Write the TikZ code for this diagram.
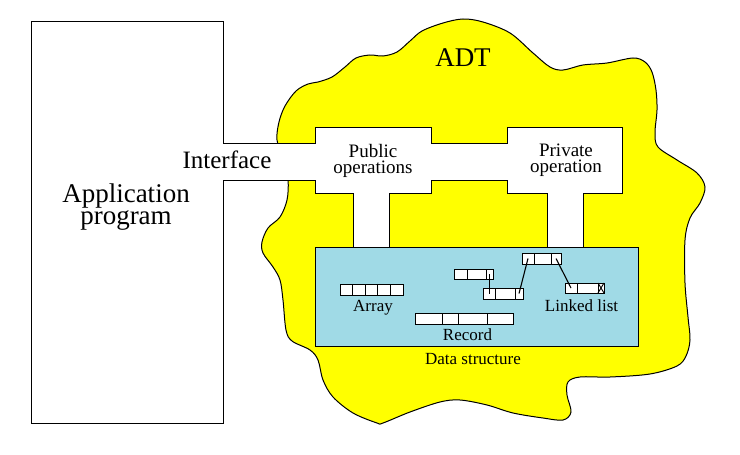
\documentclass[tikz,border=0pt]{standalone}
\usepackage{fontspec}
\setmainfont{Liberation Serif}
\definecolor{adtyellow}{RGB}{255,255,0}
\definecolor{dsblue}{RGB}{160,218,230}
\tikzset{
  outline/.style={draw=black,line width=1pt},
  cellbox/.style={draw=black,fill=white,line width=0.9pt},
  ptr/.style={draw=black,line width=1.1pt},
  bigtxt/.style={font=\fontsize{27}{22}\selectfont,inner sep=0pt,align=center},
  midtxt/.style={font=\fontsize{25}{22}\selectfont,inner sep=0pt},
  optxt/.style={font=\fontsize{19}{16}\selectfont,inner sep=0pt,align=center},
  smtxt/.style={font=\fontsize{17}{17}\selectfont,inner sep=0pt},
}
\begin{document}
\begin{tikzpicture}[x=1pt,y=-1pt]
\useasboundingbox (0,0) rectangle (740,455);
% ADT blob
\draw[outline,fill=adtyellow] plot[smooth cycle,tension=0.55] coordinates {
(283,300) (280,280) (273,267) (263,253) (262,242) (268,228) (280,217) (287,200)
(288,180) (283,160) (277,140) (279,122) (285,106) (296,91) (308,84) (318,82)
(332,77) (345,67) (356,58) (370,55) (383,56) (397,52) (410,41) (422,31) (443,23) (463,19)
(483,22) (510,33) (533,53) (550,67) (563,70) (583,65) (607,63) (633,58) (645,62)
(652,72) (656,90) (657,110) (655,133) (658,147) (677,160) (697,173) (705,187)
(700,203) (690,218) (685,240) (685,283) (688,317) (690,340) (686,356) (677,366)
(650,374) (610,377) (580,377) (568,382) (567,395) (571,412) (563,420) (543,418)
(513,413) (487,405) (460,400) (440,402) (410,412) (383,423) (377,423) (353,413)
(333,397) (323,380) (318,360) (310,350) (292,341) (286,330)};
% Application box + interface corridor + operations boxes + stems
\draw[outline,fill=white,line join=miter]
 (223,143) -- (223,21) -- (31,21) -- (31,423) -- (223,423) -- (223,180)
 -- (315,180) -- (315,193) -- (353,193) -- (353,247) -- (389,247) -- (389,193)
 -- (431,193) -- (431,180) -- (507,180) -- (507,193) -- (547,193) -- (547,247)
 -- (583,247) -- (583,193) -- (622,193) -- (622,127) -- (507,127) -- (507,143)
 -- (431,143) -- (431,127) -- (315,127) -- (315,143) -- cycle;
% Data structure
\draw[outline,fill=dsblue] (315,247) rectangle (638,346);
% Array
\foreach \i in {0,...,4}
  \draw[cellbox] ({340+\i*12.6},284) rectangle ({340+(\i+1)*12.6},295);
% Record
\draw[cellbox] (415,313) rectangle (442,324);
\draw[cellbox] (442,313) rectangle (458,324);
\draw[cellbox] (458,313) rectangle (487,324);
\draw[cellbox] (487,313) rectangle (513,324);
% Linked list nodes
\draw[cellbox] (454,269) rectangle (493,279);
\draw[cellbox] (467,269) -- (467,279) (486,269) -- (486,279);
\draw[cellbox] (483,288) rectangle (523,299);
\draw[cellbox] (495,288) -- (495,299) (515,288) -- (515,299);
\draw[cellbox] (522,253) rectangle (561,264);
\draw[cellbox] (534,253) -- (534,264) (551,253) -- (551,264);
\draw[cellbox] (565,283) rectangle (604,293);
\draw[cellbox] (577,283) -- (577,293) (598,283) -- (598,293);
\draw[line width=0.9pt] (598,283) -- (604,293) (598,293) -- (604,283);
\coordinate (p1s) at (489.5,274);
\coordinate (p1e) at (489.5,293.5);
\coordinate (p2s) at (519,293.5);
\coordinate (p2e) at (528,258.5);
\coordinate (p3s) at (556,258.5);
\coordinate (p3e) at (571,288);
\draw[ptr] (p1s) -- (p1e);
\draw[ptr] (p2s) -- (p2e);
\draw[ptr] (p3s) -- (p3e);
% Texts
\node[bigtxt,anchor=base] (adt) at (463,66) {ADT};
\node[bigtxt] (app) at (126,207.5) {Application\\program};
\node[midtxt,anchor=base] (iface) at (227,168) {Interface};
\node[optxt] (pub) at (373,160.5) {Public\\operations};
\node[optxt] (priv) at (566,160.5) {Private\\operation};
\node[smtxt,anchor=base] (arr) at (373,311.5) {Array};
\node[smtxt,anchor=base] (rec) at (467.5,340) {Record};
\node[smtxt,anchor=base] (ll) at (581.5,311.5) {Linked list};
\node[smtxt,anchor=base] (ds) at (473,364) {Data structure};
\end{tikzpicture}
\end{document}
